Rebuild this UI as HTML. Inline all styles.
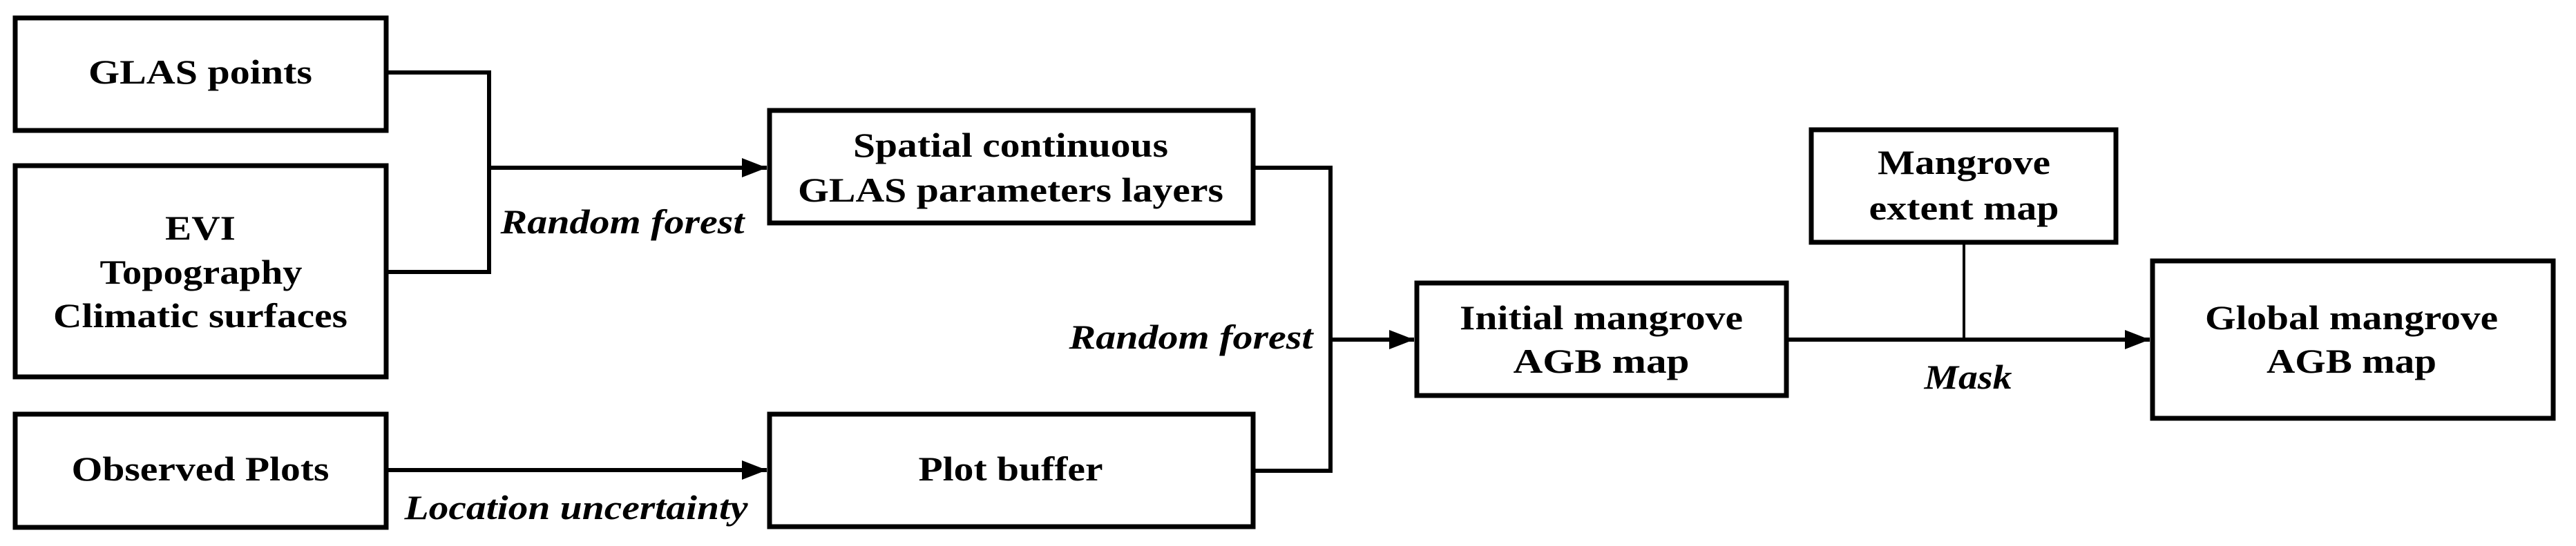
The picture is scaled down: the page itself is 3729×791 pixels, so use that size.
<!DOCTYPE html>
<html><head><meta charset="utf-8"><style>html,body{margin:0;padding:0;background:#fff}svg{display:block}</style></head>
<body>
<svg width="3729" height="791" viewBox="0 0 3729 791" xmlns="http://www.w3.org/2000/svg">
<defs>
<marker id="ah" markerWidth="36" markerHeight="28" refX="36" refY="14" orient="auto" markerUnits="userSpaceOnUse">
<path d="M0,0 L36,14 L0,28 Z" fill="#000"/>
</marker>
</defs>
<g fill="none" stroke="#000" stroke-width="7">
<rect x="22" y="26" width="537" height="163"/>
<rect x="22" y="240" width="537" height="306"/>
<rect x="22" y="600" width="537" height="164"/>
<rect x="1114" y="160" width="700" height="163"/>
<rect x="1114" y="600" width="700" height="163"/>
<rect x="2051" y="410" width="535" height="163"/>
<rect x="2622" y="188" width="441" height="163"/>
<rect x="3116" y="378" width="580" height="228"/>
</g>
<g fill="none" stroke="#000" stroke-width="6">
<polyline points="561,105 708,105 708,394 561,394"/>
<line x1="708" y1="243" x2="1110" y2="243" marker-end="url(#ah)"/>
<line x1="561" y1="681" x2="1110" y2="681" marker-end="url(#ah)"/>
<polyline points="1816,243 1926,243 1926,682 1816,682"/>
<line x1="1926" y1="492" x2="2047" y2="492" marker-end="url(#ah)"/>
<line x1="2588" y1="492" x2="3112" y2="492" marker-end="url(#ah)"/>
<line x1="2843" y1="353" x2="2843" y2="492" stroke-width="4"/>
</g>
<g font-family="'Liberation Serif', serif" font-weight="bold" font-size="50" text-anchor="middle" fill="#000">
<text x="290" y="121" textLength="324" lengthAdjust="spacingAndGlyphs">GLAS points</text>
<text x="290" y="347" textLength="102" lengthAdjust="spacingAndGlyphs">EVI</text>
<text x="291" y="411" textLength="293" lengthAdjust="spacingAndGlyphs">Topography</text>
<text x="290" y="474" textLength="426" lengthAdjust="spacingAndGlyphs">Climatic surfaces</text>
<text x="290" y="696" textLength="373" lengthAdjust="spacingAndGlyphs">Observed Plots</text>
<text x="1463" y="227" textLength="456" lengthAdjust="spacingAndGlyphs">Spatial continuous</text>
<text x="1463" y="292" textLength="616" lengthAdjust="spacingAndGlyphs">GLAS parameters layers</text>
<text x="1463" y="696" textLength="267" lengthAdjust="spacingAndGlyphs">Plot buffer</text>
<text x="2318" y="477" textLength="410" lengthAdjust="spacingAndGlyphs">Initial mangrove</text>
<text x="2318" y="540" textLength="255" lengthAdjust="spacingAndGlyphs">AGB map</text>
<text x="2843" y="252" textLength="250" lengthAdjust="spacingAndGlyphs">Mangrove</text>
<text x="2843" y="318" textLength="275" lengthAdjust="spacingAndGlyphs">extent map</text>
<text x="3404" y="477" textLength="424" lengthAdjust="spacingAndGlyphs">Global mangrove</text>
<text x="3404" y="540" textLength="246" lengthAdjust="spacingAndGlyphs">AGB map</text>
</g>
<g font-family="'Liberation Serif', serif" font-weight="bold" font-style="italic" font-size="50" text-anchor="middle" fill="#000">
<text x="901" y="338" textLength="353" lengthAdjust="spacingAndGlyphs">Random forest</text>
<text x="834" y="752" textLength="497" lengthAdjust="spacingAndGlyphs">Location uncertainty</text>
<text x="1724" y="505" textLength="353" lengthAdjust="spacingAndGlyphs">Random forest</text>
<text x="2849" y="563" textLength="127" lengthAdjust="spacingAndGlyphs">Mask</text>
</g>
</svg>
</body></html>
